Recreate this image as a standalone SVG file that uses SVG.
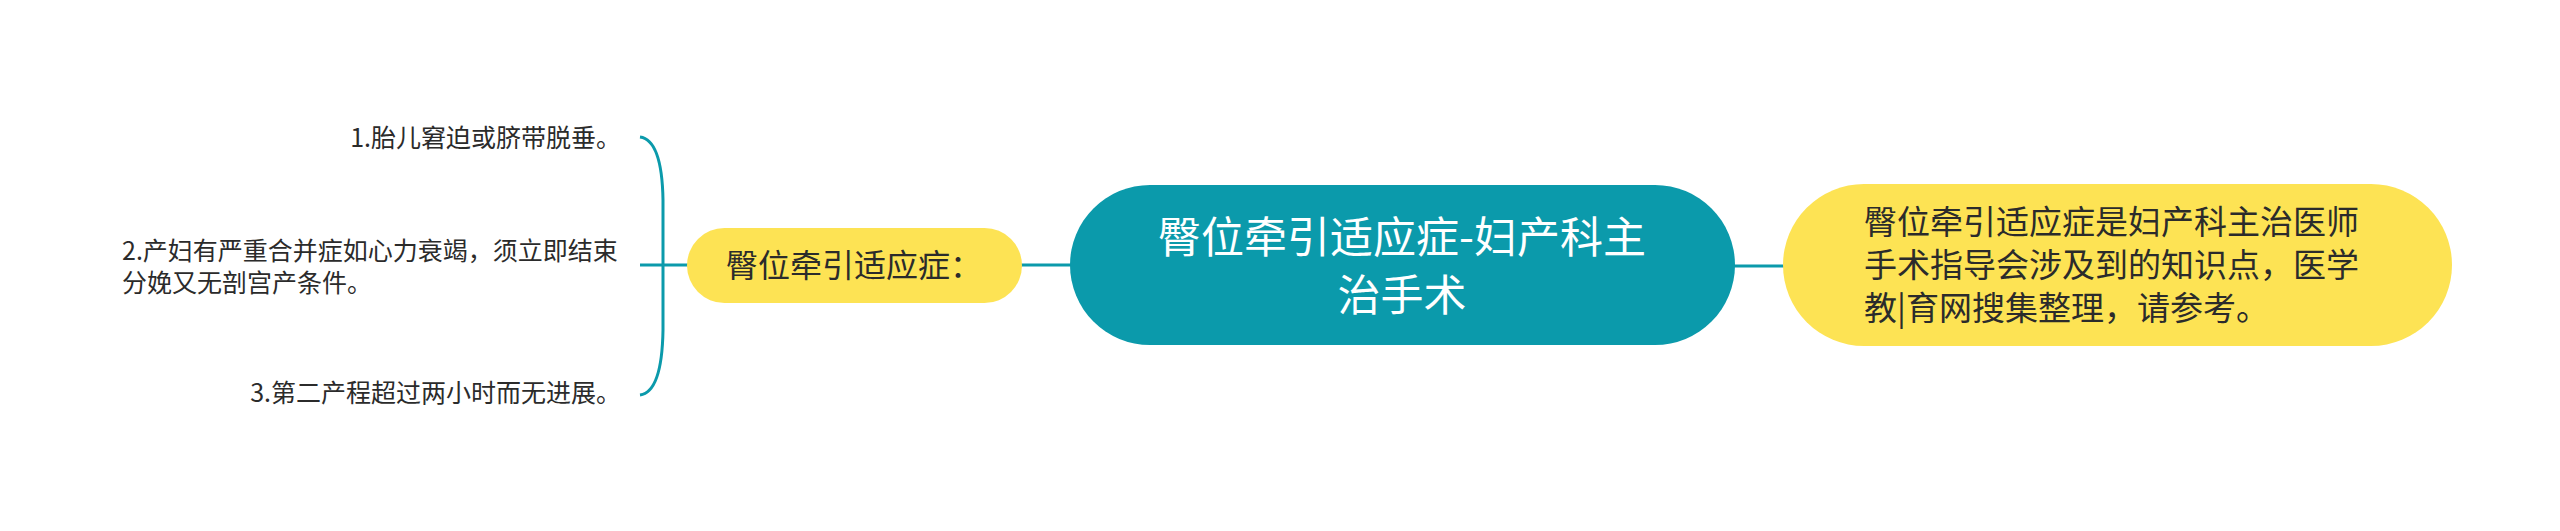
<svg xmlns="http://www.w3.org/2000/svg" width="2560" height="531" viewBox="0 0 2560 531">
<style>
.t{font-family:"Noto Sans CJK SC","Noto Sans",sans-serif;}
.dark{fill:#2b2b2b;}
.white{fill:#ffffff;}
.yel{fill:#fde354;}
.teal{fill:#0b9aab;}
.ln{fill:none;stroke:#0b9aab;stroke-width:3;}
</style>
<rect x="0" y="0" width="2560" height="531" fill="#ffffff"/>
<g id="connectors">
<path class="ln" d="M640,137 Q662,140 663,200 L663,330 Q662,392 640,395"/>
<line class="ln" x1="640" y1="265" x2="688" y2="265"/>
<line class="ln" x1="1021" y1="265" x2="1072" y2="265"/>
<line class="ln" x1="1733" y1="266" x2="1785" y2="266"/>
</g>
<g id="center">
<rect class="teal" x="1070" y="185" width="665" height="160" rx="80"/>
<text class="t white" x="1402" y="253" font-size="43" text-anchor="middle">臀位牵引适应症-妇产科主</text>
<text class="t white" x="1402" y="311" font-size="43" text-anchor="middle">治手术</text>
</g>
<g id="note">
<rect class="yel" x="1783" y="184" width="669" height="162" rx="81"/>
<text class="t dark" x="1864" y="234" font-size="33">臀位牵引适应症是妇产科主治医师</text>
<text class="t dark" x="1864" y="277" font-size="33">手术指导会涉及到的知识点，医学</text>
<text class="t dark" x="1864" y="320" font-size="33">教|育网搜集整理，请参考。</text>
</g>
<g id="branch">
<rect class="yel" x="687" y="228" width="335" height="75" rx="37.5"/>
<text class="t dark" x="854" y="277" font-size="32" text-anchor="middle">臀位牵引适应症：</text>
</g>
<g id="leaf1">
<text class="t dark" x="621" y="147" font-size="25" text-anchor="end">1.胎儿窘迫或脐带脱垂。</text>
</g>
<g id="leaf2">
<text class="t dark" x="122" y="260" font-size="25">2.产妇有严重合并症如心力衰竭，须立即结束</text>
<text class="t dark" x="122" y="292" font-size="25">分娩又无剖宫产条件。</text>
</g>
<g id="leaf3">
<text class="t dark" x="621" y="402" font-size="25" text-anchor="end">3.第二产程超过两小时而无进展。</text>
</g>
</svg>
